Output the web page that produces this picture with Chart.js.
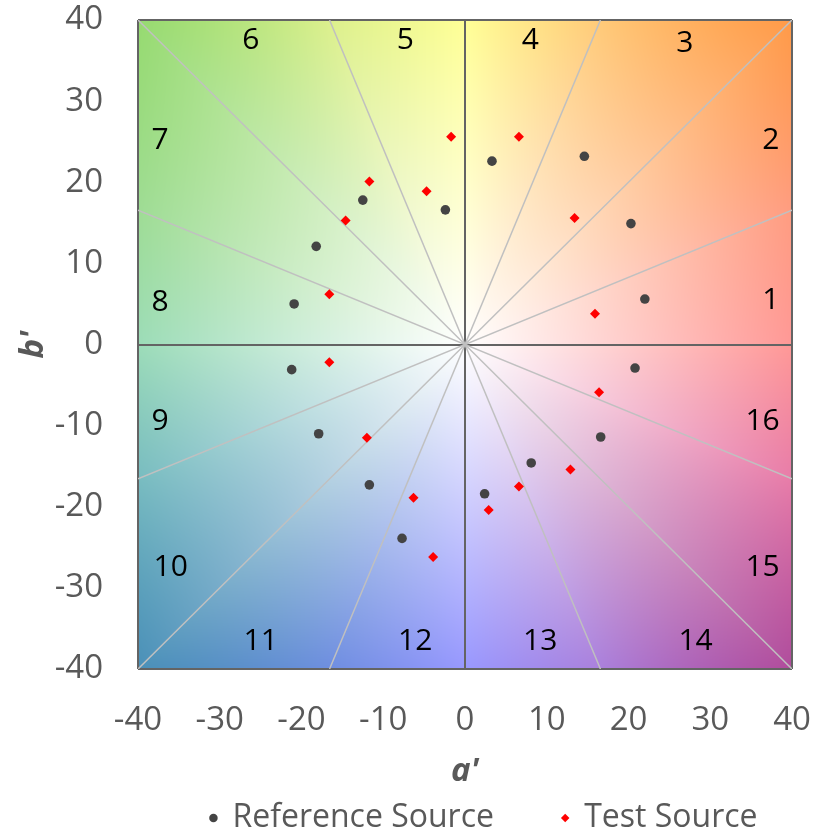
<!DOCTYPE html>
<html>
<head>
<meta charset="utf-8">
<script src="https://cdn.jsdelivr.net/npm/chart.js@4.4.1/dist/chart.umd.min.js"></script>
<style>
  html, body { margin: 0; padding: 0; background: #fff; }
  canvas { display: block; }
</style>
</head>
<body>
<canvas id="cvg" width="826" height="834"></canvas>
<script>
// --- data ---
const refA  = [22.0, 20.3, 14.6, 3.3, -2.4, -12.5, -18.2, -20.9, -21.2, -17.9, -11.7, -7.7, 2.4, 8.1, 16.6, 20.8];
const refB  = [5.6, 14.9, 23.2, 22.6, 16.6, 17.8, 12.1, 5.0, -3.1, -11.0, -17.3, -23.9, -18.4, -14.6, -11.4, -2.9];
const testA = [15.9, 13.4, 6.6, -1.7, -4.7, -11.7, -14.6, -16.6, -16.6, -12.0, -6.3, -3.9, 2.9, 6.6, 12.9, 16.4];
const testB = [3.8, 15.6, 25.6, 25.6, 18.9, 20.1, 15.3, 6.2, -2.2, -11.5, -18.9, -26.2, -20.4, -17.5, -15.4, -5.9];

// hue bin numbers and where they sit (a', b')
const binNames  = ['1','2','3','4','5','6','7','8','9','10','11','12','13','14','15','16'];
const binLabelA = [37.4, 37.4, 26.9, 8.0, -7.3, -26.2, -37.3, -37.3, -37.3, -36.0, -25.0, -6.1, 9.2, 28.2, 36.4, 36.4];
const binLabelB = [5.4, 25.2, 37.1, 37.5, 37.5, 37.5, 25.2, 5.2, -9.5, -27.5, -36.6, -36.6, -36.6, -36.6, -27.5, -9.5];

// bin boundaries drawn as spokes (0 and 90 are the axes)
const spokeAngles = [22.5, 45, 67.5, 112.5, 135, 157.5];
const axisMin = -40, axisMax = 40, axisStep = 10;

// edge colour of the hue field every 22.5 degrees, starting at a' axis
const fieldColors = ['#ff9896', '#ff9c80', '#ff9a48', '#ffca78', '#ffff96', '#dcf08c', '#96da70', '#9edc94',
                     '#9cdcb8', '#78bcc0', '#4a90b8', '#6e8ee0', '#9898ff', '#aa80dc', '#b04c9c', '#e87ca8'];

const FONT = "'Open Sans', sans-serif";
const GREY = '#595959';

function hexRgb(h) {
  const n = parseInt(h.slice(1), 16);
  return [(n >> 16) & 255, (n >> 8) & 255, n & 255];
}
const fieldRgb = fieldColors.map(hexRgb);

function toPoints(xs, ys) {
  return xs.map((v, i) => ({ x: v, y: ys[i] }));
}

// each spoke runs through the origin out to the square border
function spokeData(deg) {
  const t = deg * Math.PI / 180;
  const r = axisMax / Math.max(Math.abs(Math.cos(t)), Math.abs(Math.sin(t)));
  const ex = r * Math.cos(t), ey = r * Math.sin(t);
  return [{ x: -ex, y: -ey }, { x: ex, y: ey }];
}

const hueField = {
  id: 'hueField',
  beforeDraw(chart) {
    const { ctx, chartArea: area, scales: { x, y } } = chart;
    const w = Math.round(area.right - area.left);
    const h = Math.round(area.bottom - area.top);
    const off = document.createElement('canvas');
    off.width = w; off.height = h;
    const octx = off.getContext('2d');
    const img = octx.createImageData(w, h);
    const cols = [];
    for (let i = 0; i < w; i++) cols.push(x.getValueForPixel(area.left + i + 0.5));
    const n = fieldRgb.length;
    for (let j = 0; j < h; j++) {
      const b = y.getValueForPixel(area.top + j + 0.5);
      for (let i = 0; i < w; i++) {
        const a = cols[i];
        let ang = Math.atan2(b, a) * 180 / Math.PI;
        if (ang < 0) ang += 360;
        const pos = ang / (360 / n);
        const k = Math.floor(pos) % n, f = pos - Math.floor(pos);
        const c0 = fieldRgb[k], c1 = fieldRgb[(k + 1) % n];
        const t = Math.min(1, Math.max(Math.abs(a), Math.abs(b)) / axisMax);
        const p = (j * w + i) * 4;
        for (let c = 0; c < 3; c++) {
          const col = c0[c] + (c1[c] - c0[c]) * f;
          img.data[p + c] = 255 + (col - 255) * t;
        }
        img.data[p + 3] = 255;
      }
    }
    octx.putImageData(img, 0, 0);
    ctx.drawImage(off, area.left, area.top);
  }
};

const binText = {
  id: 'binText',
  beforeDatasetsDraw(chart) {
    const { ctx, scales: { x, y } } = chart;
    ctx.save();
    ctx.font = "30px " + FONT;
    ctx.fillStyle = '#000';
    ctx.textAlign = 'center';
    ctx.textBaseline = 'middle';
    binNames.forEach((s, i) => {
      ctx.fillText(s, x.getPixelForValue(binLabelA[i]), y.getPixelForValue(binLabelB[i]));
    });
    ctx.restore();
  }
};

// legend row sits a little right of the plot centre
const legendShift = {
  id: 'legendShift',
  afterLayout(chart) {
    chart.legend.left += 19;
    chart.legend.right += 19;
  }
};

const spokeSets = spokeAngles.map(deg => ({
  label: 'spoke',
  data: spokeData(deg),
  showLine: true,
  borderColor: '#c0c0c0',
  borderWidth: 1.5,
  pointRadius: 0,
  pointHoverRadius: 0
}));

const edgeGrid = ctx => (ctx.tick && [axisMin, 0, axisMax].includes(ctx.tick.value)) ? '#646464' : 'rgba(0,0,0,0)';

// keep the plot box where the layout padding puts it
function noScalePadding(scale) {
  scale.paddingTop = 0; scale.paddingBottom = 0;
  scale.paddingLeft = 0; scale.paddingRight = 0;
}

Chart.defaults.font.family = FONT;
Chart.defaults.color = GREY;

new Chart(document.getElementById('cvg'), {
  type: 'scatter',
  data: {
    datasets: [
      {
        label: 'Reference Source       ',
        data: toPoints(refA, refB),
        pointStyle: 'circle',
        pointRadius: 4.8,
        backgroundColor: '#444444',
        borderColor: '#444444',
        borderWidth: 0
      },
      {
        label: 'Test Source',
        data: toPoints(testA, testB),
        pointStyle: 'rectRot',
        pointRadius: 5,
        backgroundColor: '#ff0000',
        borderColor: '#ff0000',
        borderWidth: 0
      },
      ...spokeSets
    ]
  },
  options: {
    responsive: false,
    animation: false,
    layout: { padding: { top: 20, right: 34, bottom: -10, left: 0 } },
    scales: {
      x: {
        min: axisMin, max: axisMax,
        ticks: { stepSize: axisStep, padding: 32, font: { size: 33 }, color: GREY },
        grid: { color: edgeGrid, lineWidth: 2, drawTicks: false },
        border: { display: false },
        title: { display: true, text: "a'", color: GREY, padding: { top: 0, bottom: 1 },
                 font: { size: 33, weight: 'bold', style: 'italic' } },
        afterFit(scale) { scale.height = 123; noScalePadding(scale); }
      },
      y: {
        min: axisMin, max: axisMax,
        ticks: { stepSize: axisStep, padding: 35, font: { size: 33 }, color: GREY },
        grid: { color: edgeGrid, lineWidth: 2, drawTicks: false },
        border: { display: false },
        title: { display: true, text: "b'", color: GREY, padding: { top: 14, bottom: 0 },
                 font: { size: 33, weight: 'bold', style: 'italic' } },
        afterFit(scale) { scale.width = 138; noScalePadding(scale); }
      }
    },
    plugins: {
      legend: {
        position: 'bottom',
        fullSize: false,
        labels: {
          usePointStyle: true,
          boxWidth: 6,
          boxHeight: 6,
          padding: 10,
          color: GREY,
          font: { size: 32 },
          filter: item => item.text !== 'spoke'
        }
      },
      tooltip: { enabled: false }
    }
  },
  plugins: [hueField, binText, legendShift]
});
</script>
</body>
</html>
